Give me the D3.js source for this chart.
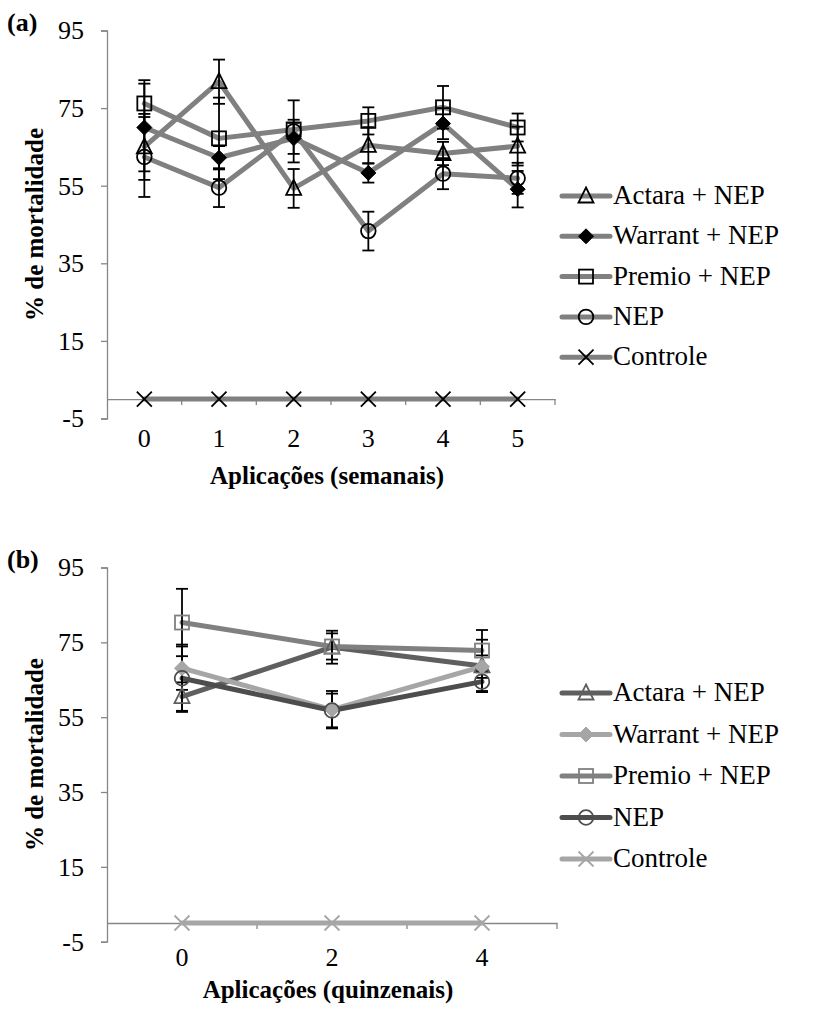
<!DOCTYPE html>
<html>
<head>
<meta charset="utf-8">
<script src="https://cdn.jsdelivr.net/npm/d3@7"></script>
<style>
  body { margin: 0; background: #fff; }
  svg text { font-family: "Liberation Serif", "Times New Roman", Times, serif !important; fill: #000; }
</style>
</head>
<body>
<div id="chart"></div>
<script>
// ---- data ----
var seriesNames = ["Actara + NEP", "Warrant + NEP", "Premio + NEP", "NEP", "Controle"];
var yTicks = [-5, 15, 35, 55, 75, 95];

// (a) weekly applications
var weeksA = ["0", "1", "2", "3", "4", "5"];
var actaraA   = [65.0, 81.8, 54.3, 65.4, 63.3, 65.2];
var warrantA  = [70.0, 62.2, 67.2, 58.3, 71.0, 54.1];
var premioA   = [76.2, 67.2, 69.5, 71.7, 75.2, 70.0];
var nepA      = [62.4, 54.5, 69.0, 43.3, 58.1, 56.9];
var controleA = [0, 0, 0, 0, 0, 0];
var actaraErrA   = [8.5, 5.7, 5.0, 4.7, 3.0, 5.0];
var warrantErrA  = [11.3, 3.0, 4.0, 2.5, 4.0, 4.7];
var premioErrA   = [6.0, 10.5, 2.5, 3.5, 5.5, 3.6];
var nepErrA      = [10.3, 5.0, 8.0, 5.0, 4.0, 4.0];
var controleErrA = [0, 0, 0, 0, 0, 0];

// (b) fortnightly applications
var weeksB = ["0", "2", "4"];
var actaraB   = [60.5, 73.7, 68.7];
var warrantB  = [68.1, 57.0, 68.5];
var premioB   = [80.3, 73.9, 72.8];
var nepB      = [65.4, 56.8, 64.5];
var controleB = [0, 0, 0];
var actaraErrB   = [3.8, 4.4, 7.0];
var warrantErrB  = [5.8, 5.0, 3.0];
var premioErrB   = [9.0, 3.5, 5.5];
var nepErrB      = [9.0, 4.5, 2.5];
var controleErrB = [0, 0, 0];

var serif = "'Liberation Serif', 'Times New Roman', Times, serif";

var svg = d3.select("#chart").append("svg")
  .attr("width", 840)
  .attr("height", 1011);

var symbols = ["triangle", "diamond", "square", "circle", "x"];

function drawSymbol(g, type, cx, cy, stroke, fill) {
  if (type == "triangle") {
    g.append("path")
      .attr("d", "M" + cx + "," + (cy - 8.5) + "L" + (cx + 7.5) + "," + (cy + 6.5) + "L" + (cx - 7.5) + "," + (cy + 6.5) + "Z")
      .attr("fill", "none").attr("stroke", stroke).attr("stroke-width", 1.8);
  } else if (type == "diamond") {
    g.append("path")
      .attr("d", "M" + cx + "," + (cy - 7.5) + "L" + (cx + 7.5) + "," + cy + "L" + cx + "," + (cy + 7.5) + "L" + (cx - 7.5) + "," + cy + "Z")
      .attr("fill", fill).attr("stroke", fill).attr("stroke-width", 1);
  } else if (type == "square") {
    g.append("rect")
      .attr("x", cx - 7).attr("y", cy - 7).attr("width", 14).attr("height", 14)
      .attr("fill", "none").attr("stroke", stroke).attr("stroke-width", 1.8);
  } else if (type == "circle") {
    g.append("circle")
      .attr("cx", cx).attr("cy", cy).attr("r", 7.3)
      .attr("fill", "none").attr("stroke", stroke).attr("stroke-width", 1.8);
  } else {
    g.append("path")
      .attr("d", "M" + (cx - 7.5) + "," + (cy - 7.5) + "L" + (cx + 7.5) + "," + (cy + 7.5) + "M" + (cx + 7.5) + "," + (cy - 7.5) + "L" + (cx - 7.5) + "," + (cy + 7.5))
      .attr("fill", "none").attr("stroke", stroke).attr("stroke-width", 1.8);
  }
}

function panel(opt) {
  var g = svg.append("g");
  var x = d3.scaleBand().domain(opt.cats).range([107, opt.xEnd]);
  var y = d3.scaleLinear().domain([-5, 95]).range([opt.yBottom, opt.yTop]);
  var axisColor = "#868686";

  // y axis
  var yAxis = g.append("g")
    .attr("transform", "translate(107,0)")
    .call(d3.axisLeft(y).tickValues(yTicks).tickSize(6).tickPadding(17)
      .tickFormat(function(d) { return String(d); }));
  yAxis.attr("font-family", serif);
  yAxis.select(".domain").attr("stroke", axisColor).attr("stroke-width", 1.3);
  yAxis.selectAll(".tick line").attr("stroke", axisColor).attr("stroke-width", 1.3);
  yAxis.selectAll(".tick text")
    .attr("font-size", 26).style("font-family", serif);

  // x axis at zero
  var xAxis = g.append("g")
    .attr("transform", "translate(0," + y(0) + ")")
    .call(d3.axisBottom(x).tickSize(0).tickSizeOuter(0).tickPadding(opt.xPad));
  xAxis.attr("font-family", serif);
  xAxis.select(".domain").attr("stroke", axisColor).attr("stroke-width", 1.3);
  xAxis.selectAll(".tick text")
    .attr("font-size", 26).style("font-family", serif);
  // tick marks between categories
  g.selectAll(".xdiv")
    .data(opt.cats.slice(1).concat(["end"]))
    .enter().append("line")
    .attr("x1", function(d, i) { return 107 + x.step() * (i + 1); })
    .attr("x2", function(d, i) { return 107 + x.step() * (i + 1); })
    .attr("y1", y(0)).attr("y2", y(0) + 6)
    .attr("stroke", axisColor).attr("stroke-width", 1.3);

  var cx = function(i) { return x(opt.cats[i]) + x.bandwidth() / 2; };
  var line = d3.line()
    .x(function(d, i) { return cx(i); })
    .y(function(d) { return y(d); });

  // lines
  opt.series.forEach(function(s, k) {
    g.append("path")
      .datum(s)
      .attr("d", line)
      .attr("fill", "none")
      .attr("stroke", opt.lineColors[k])
      .attr("stroke-width", 5)
      .attr("stroke-linejoin", "round")
      .attr("stroke-linecap", "round");
  });

  // error bars
  opt.series.forEach(function(s, k) {
    s.forEach(function(v, i) {
      var e = opt.errors[k][i];
      if (e <= 0) return;
      var xx = cx(i);
      g.append("line").attr("x1", xx).attr("x2", xx)
        .attr("y1", y(v - e)).attr("y2", y(v + e))
        .attr("stroke", "#000").attr("stroke-width", 1.8);
      [v - e, v + e].forEach(function(t) {
        g.append("line").attr("x1", xx - 6).attr("x2", xx + 6)
          .attr("y1", y(t)).attr("y2", y(t))
          .attr("stroke", "#000").attr("stroke-width", 1.8);
      });
    });
  });

  // markers
  opt.series.forEach(function(s, k) {
    s.forEach(function(v, i) {
      drawSymbol(g, symbols[k], cx(i), y(v), opt.markColors[k], opt.markColors[k]);
    });
  });

  // panel letter
  g.append("text")
    .attr("x", 7).attr("y", opt.yTop)
    .attr("font-size", 26).attr("font-weight", "bold")
    .style("font-family", serif)
    .text(opt.letter);

  // axis titles
  g.append("text")
    .attr("transform", "translate(43," + ((opt.yTop + opt.yBottom) / 2) + ") rotate(-90)")
    .attr("text-anchor", "middle")
    .attr("font-size", 25).attr("font-weight", "bold")
    .style("font-family", serif)
    .text("% de mortalidade");
  g.append("text")
    .attr("x", (107 + opt.xEnd) / 2 - 4).attr("y", opt.xTitleY)
    .attr("text-anchor", "middle")
    .attr("font-size", 25).attr("font-weight", "bold")
    .style("font-family", serif)
    .text(opt.xTitle);

  // legend
  seriesNames.forEach(function(name, k) {
    var ly = opt.legendY + k * opt.legendStep;
    g.append("line")
      .attr("x1", 562).attr("x2", 610)
      .attr("y1", ly).attr("y2", ly)
      .attr("stroke", opt.lineColors[k]).attr("stroke-width", 5)
      .attr("stroke-linecap", "round");
    drawSymbol(g, symbols[k], 586, ly, opt.markColors[k], opt.markColors[k]);
    g.append("text")
      .attr("x", 613).attr("y", ly + 8)
      .attr("font-size", 27)
      .style("font-family", serif)
      .text(name);
  });
}

panel({
  letter: "(a)",
  cats: weeksA,
  xEnd: 555,
  yTop: 30.5,
  yBottom: 418.5,
  xPad: 29,
  xTitle: "Aplicações (semanais)",
  xTitleY: 484,
  series: [actaraA, warrantA, premioA, nepA, controleA],
  errors: [actaraErrA, warrantErrA, premioErrA, nepErrA, controleErrA],
  lineColors: ["#808080", "#808080", "#808080", "#808080", "#808080"],
  markColors: ["#000", "#000", "#000", "#000", "#000"],
  legendY: 196,
  legendStep: 40.3
});

panel({
  letter: "(b)",
  cats: weeksB,
  xEnd: 557,
  yTop: 567.5,
  yBottom: 941.7,
  xPad: 25,
  xTitle: "Aplicações (quinzenais)",
  xTitleY: 998,
  series: [actaraB, warrantB, premioB, nepB, controleB],
  errors: [actaraErrB, warrantErrB, premioErrB, nepErrB, controleErrB],
  lineColors: ["#5f5f5f", "#a6a6a6", "#808080", "#4d4d4d", "#a6a6a6"],
  markColors: ["#5f5f5f", "#a6a6a6", "#808080", "#4d4d4d", "#a6a6a6"],
  legendY: 693,
  legendStep: 41.5
});
</script>
</body>
</html>
